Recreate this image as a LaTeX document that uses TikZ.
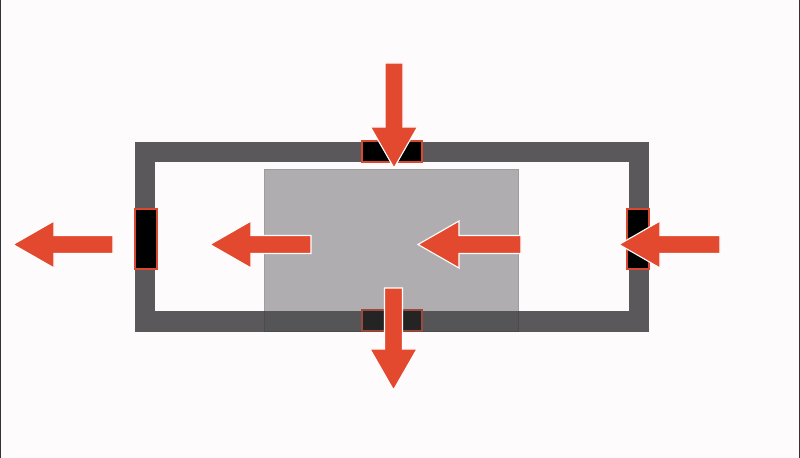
\documentclass[tikz,border=0pt]{standalone}
\usepackage{tikz}
\usetikzlibrary{calc}
\definecolor{bgwhite}{HTML}{FDFBFC}
\definecolor{wallgray}{HTML}{5A585A}
\definecolor{panelgray}{HTML}{515052}
\definecolor{arrowred}{HTML}{E2492F}
\definecolor{gatered}{HTML}{D9482F}
\tikzstyle{wall}=[draw=wallgray,line width=0.5125cm,inner sep=0pt,outer sep=0pt,minimum width=12.3375cm,minimum height=4.225cm]
\tikzstyle{hgate}=[fill=black,draw=gatered,line width=1pt,inner sep=0pt,minimum width=1.5cm,minimum height=0.525cm]
\tikzstyle{vgate}=[fill=black,draw=gatered,line width=1pt,inner sep=0pt,minimum width=0.55cm,minimum height=1.5cm]
\tikzstyle{panel}=[fill=panelgray,draw=black!75,fill opacity=0.45,draw opacity=0.5,line width=0.7pt,inner sep=0pt,minimum width=6.325cm,minimum height=4.025cm]
\tikzstyle{edgeline}=[draw=black!80,line width=0.8pt]
% block arrow from tail #1 to tip #2
\newcommand{\flowarrow}[2]{%
  \coordinate (ahead) at ($(#2)!1.025cm!(#1)$);
  \fill[arrowred,draw=white,line width=0.8pt]
    ($(#1)!0.225cm!90:(#2)$) -- ($(ahead)!0.225cm!90:(#2)$) -- ($(ahead)!0.5875cm!90:(#2)$) -- (#2)
    -- ($(ahead)!0.5875cm!-90:(#2)$) -- ($(ahead)!0.225cm!-90:(#2)$) -- ($(#1)!0.225cm!-90:(#2)$) -- cycle;}
\begin{document}
\begin{tikzpicture}[x=0.025cm,y=-0.025cm]
    \useasboundingbox (0,0) rectangle (800,458);
    \fill[bgwhite] (0,0) rectangle (800,458);
    \draw[edgeline] (0.5,0) -- (0.5,458);
    \draw[edgeline] (799.2,0) -- (799.2,458);
    \node[wall] (cell) at (392,236.75) {};
    \node[hgate] (topgate) at (392,151.5) {};
    \node[hgate] (botgate) at (392,320.5) {};
    \node[vgate] (leftgate) at (146,239) {};
    \node[vgate] (rightgate) at (638,239) {};
    \node[panel] (chamber) at (391.5,250.5) {};
    \coordinate (toptail) at (394,63);
    \coordinate (toptip) at (394,168);
    \coordinate (bottail) at (393.5,288);
    \coordinate (bottip) at (393.5,390);
    \coordinate (righttail) at (720,244.5);
    \coordinate (righttip) at (619,244.5);
    \coordinate (midtail) at (521,244.5);
    \coordinate (midtip) at (418,244.5);
    \coordinate (intail) at (311,244.5);
    \coordinate (intip) at (210,244.5);
    \coordinate (outtail) at (113,244.5);
    \coordinate (outtip) at (13,244.5);
    \flowarrow{toptail}{toptip}
    \flowarrow{bottail}{bottip}
    \flowarrow{righttail}{righttip}
    \flowarrow{midtail}{midtip}
    \flowarrow{intail}{intip}
    \flowarrow{outtail}{outtip}
\end{tikzpicture}
\end{document}
